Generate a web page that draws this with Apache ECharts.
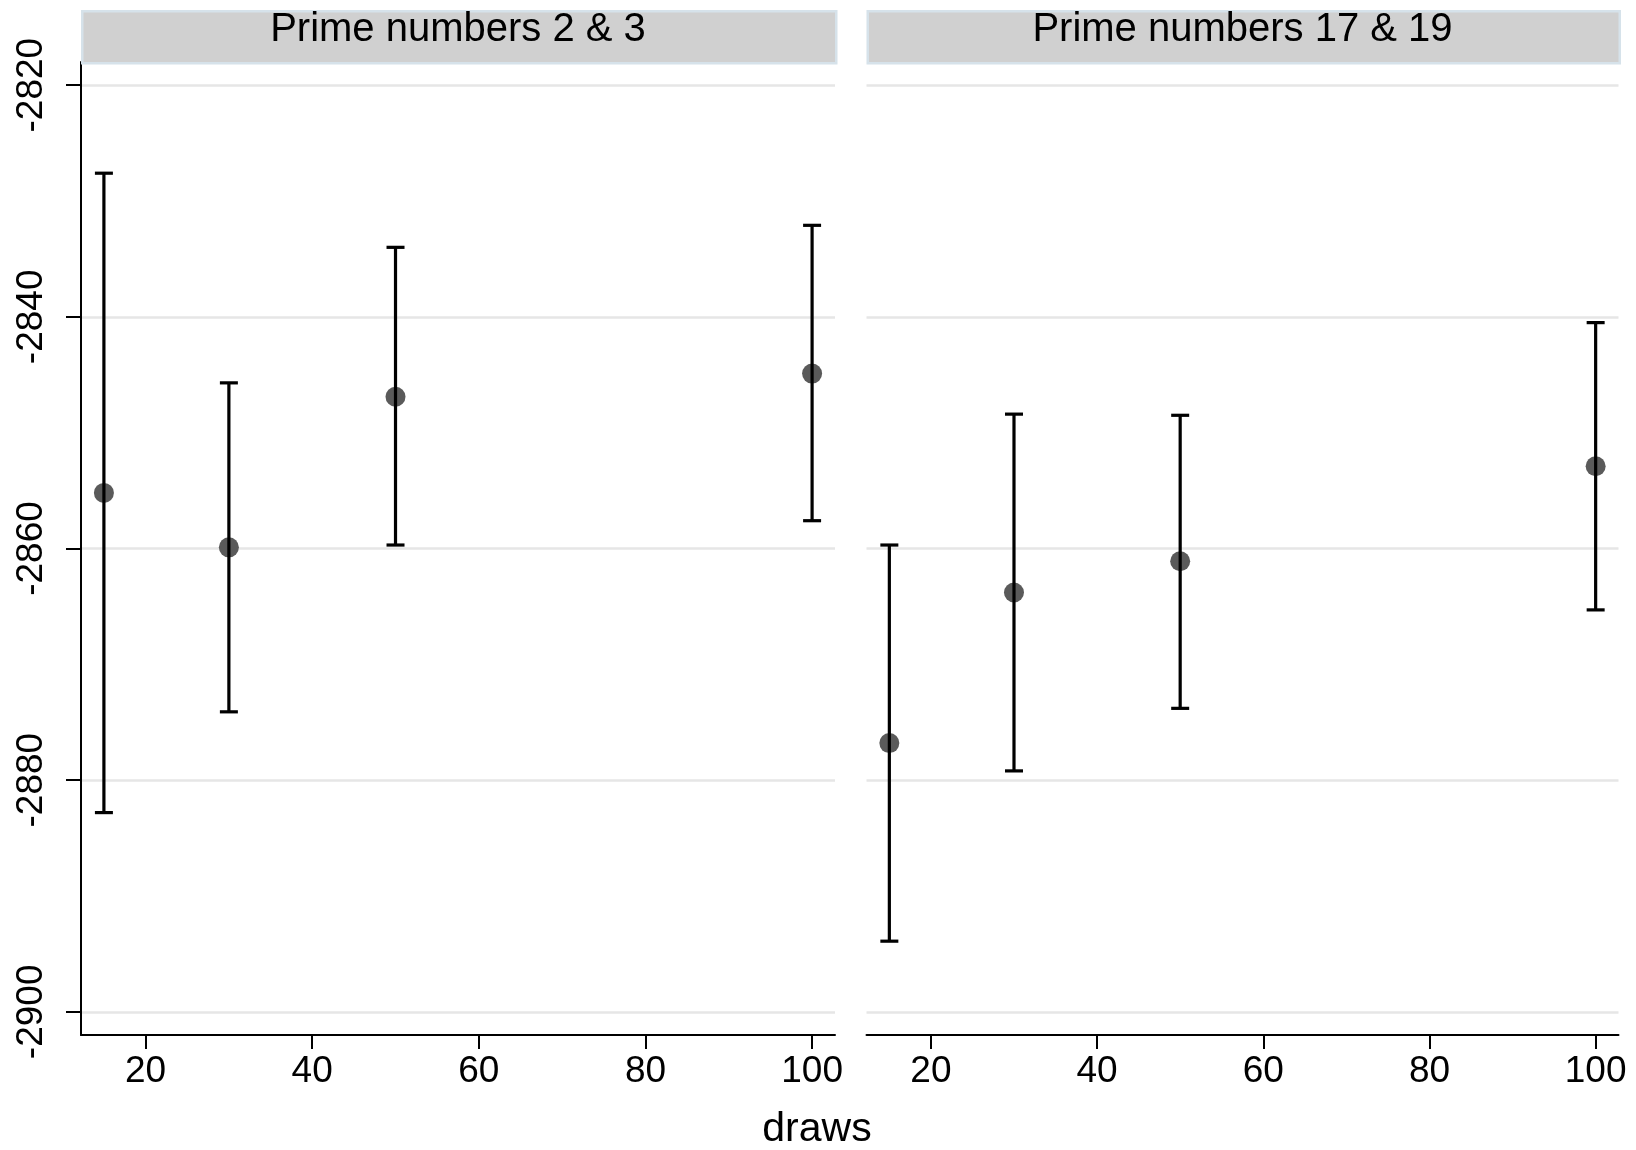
<!DOCTYPE html>
<html><head><meta charset="utf-8">
<script src="https://cdn.jsdelivr.net/npm/echarts@6/dist/echarts.min.js"></script>
<style>html,body{margin:0;padding:0;background:#fff}#c{width:1636px;height:1150px}</style>
</head><body><div id="c"></div>
<script>
// ---- data ----
const draws = [15, 30, 50, 100];
const panelTitles = ['Prime numbers 2 & 3', 'Prime numbers 17 & 19'];
const meanA = [-2855.2, -2859.9, -2846.9, -2844.9];
const loA   = [-2882.8, -2874.1, -2859.7, -2857.6];
const hiA   = [-2827.6, -2845.7, -2834.0, -2832.1];
const meanB = [-2876.8, -2863.8, -2861.1, -2852.9];
const loB   = [-2893.9, -2879.2, -2873.8, -2865.3];
const hiB   = [-2859.7, -2848.4, -2848.5, -2840.5];
const yTicks = [-2900, -2880, -2860, -2840, -2820];
const xTicks = [20, 40, 60, 80, 100];
const xRange = [12.25, 102.75];
const yRange = [-2902, -2818];
const xTitle = 'draws';

const FONT = '"Liberation Sans", Arial, Helvetica, sans-serif';
const chart = echarts.init(document.getElementById('c'), null, {renderer: 'canvas'});

const grids = [
  {left: 81, top: 62, width: 754, height: 973},
  {left: 866.5, top: 62, width: 752, height: 973}
];

function xAxisFor(i) {
  return {
    type: 'value', gridIndex: i, min: xRange[0], max: xRange[1],
    axisLine: {show: true, onZero: false, lineStyle: {color: '#000', width: 2}},
    axisTick: {show: true, length: 14, lineStyle: {color: '#000', width: 2}, customValues: xTicks},
    axisLabel: {show: true, customValues: xTicks, margin: 18, color: '#000', fontSize: 37, fontFamily: FONT,
      formatter: v => String(v)},
    splitLine: {show: false}
  };
}
function yAxisFor(i) {
  const showAx = i === 0;
  return {
    type: 'value', gridIndex: i, min: yRange[0], max: yRange[1],
    axisLine: {show: showAx, onZero: false, lineStyle: {color: '#000', width: 2}},
    axisTick: {show: showAx, length: 15, lineStyle: {color: '#000', width: 2}, customValues: yTicks},
    axisLabel: {show: showAx, customValues: yTicks, rotate: 90, margin: 31, color: '#000', fontSize: 37, fontFamily: FONT,
      formatter: v => String(v)},
    splitLine: {show: true, lineStyle: {color: '#e6e6e6', width: 2.5}}
  };
}

function errData(lo, hi) { return draws.map((d, i) => [d, lo[i], hi[i]]); }
function ptData(m) { return draws.map((d, i) => [d, m[i]]); }

function renderErr(params, api) {
  const x = api.value(0), lo = api.value(1), hi = api.value(2);
  const pLo = api.coord([x, lo]);
  const pHi = api.coord([x, hi]);
  const hw = 9;
  const style = {stroke: '#000', lineWidth: 3.2};
  return {
    type: 'group',
    children: [
      {type: 'line', shape: {x1: pLo[0], y1: pLo[1], x2: pHi[0], y2: pHi[1]}, style: style},
      {type: 'line', shape: {x1: pLo[0] - hw, y1: pLo[1], x2: pLo[0] + hw, y2: pLo[1]}, style: style},
      {type: 'line', shape: {x1: pHi[0] - hw, y1: pHi[1], x2: pHi[0] + hw, y2: pHi[1]}, style: style}
    ]
  };
}

const panels = [[meanA, loA, hiA], [meanB, loB, hiB]];
const series = [];
panels.forEach((p, i) => {
  series.push({
    type: 'scatter', xAxisIndex: i, yAxisIndex: i, data: ptData(p[0]),
    symbol: 'circle', symbolSize: 20, itemStyle: {color: '#5a5a5a', opacity: 1}, z: 2,
    silent: true
  });
  series.push({
    type: 'custom', xAxisIndex: i, yAxisIndex: i, data: errData(p[1], p[2]),
    encode: {x: 0, y: [1, 2]}, renderItem: renderErr, z: 3, silent: true
  });
});

const graphics = [];
grids.forEach((g, i) => {
  graphics.push({
    type: 'rect', left: g.left, top: 10,
    shape: {width: g.width, height: 52},
    style: {fill: '#d0d0d0', stroke: '#d6e2ea', lineWidth: 2.5}, z: 10
  });
  graphics.push({
    type: 'text', x: g.left + g.width / 2, y: 30,
    style: {text: panelTitles[i], fill: '#000', font: '40px ' + FONT, textAlign: 'center', textVerticalAlign: 'middle'}, z: 11
  });
});
graphics.push({
  type: 'text', x: 817, y: 1130,
  style: {text: xTitle, fill: '#000', font: '41px ' + FONT, textAlign: 'center', textVerticalAlign: 'middle'}, z: 11
});

chart.setOption({
  animation: false,
  backgroundColor: '#fff',
  grid: grids,
  xAxis: [xAxisFor(0), xAxisFor(1)],
  yAxis: [yAxisFor(0), yAxisFor(1)],
  series: series,
  graphic: graphics
});
</script>
</body></html>
